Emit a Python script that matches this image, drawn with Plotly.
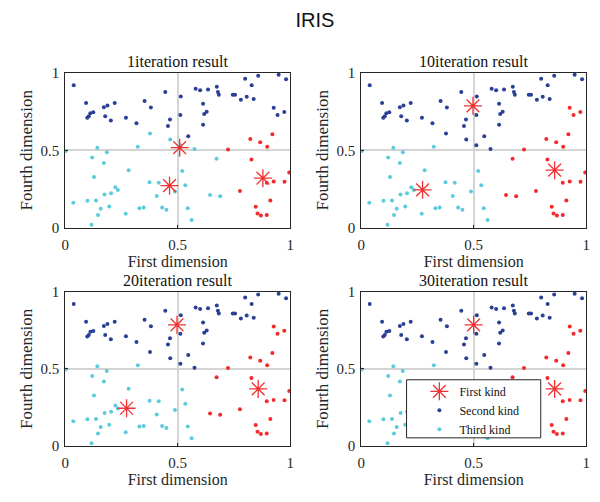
import plotly.graph_objects as go

# ---- data: normalised (first dimension, fourth dimension) of IRIS samples ----
px = [0.038, 0.093, 0.105, 0.112, 0.098, 0.125, 0.172, 0.188, 0.220, 0.178,
      0.203, 0.270, 0.317, 0.353, 0.381, 0.445, 0.466, 0.457, 0.514, 0.512,
      0.547, 0.580, 0.600, 0.635, 0.674, 0.679, 0.683, 0.613, 0.629, 0.618,
      0.613, 0.745, 0.755, 0.781, 0.807, 0.800, 0.829, 0.838, 0.858, 0.949,
      0.982, 0.927, 0.944, 0.974,
      0.921, 0.823, 0.867, 0.898, 0.724, 0.828, 0.996, 0.975, 0.927, 0.896,
      0.777, 0.912, 0.847, 0.855, 0.870, 0.896,
      0.377, 0.467, 0.512, 0.575, 0.673, 0.644, 0.689,
      0.323, 0.143, 0.185, 0.003, 0.120, 0.172, 0.282, 0.520, 0.128, 0.375,
      0.416, 0.534, 0.223, 0.234, 0.204, 0.175, 0.488, 0.407, 0.036, 0.099,
      0.137, 0.196, 0.158, 0.330, 0.349, 0.431, 0.450, 0.545, 0.269, 0.146,
      0.562, 0.117]
py = [0.920, 0.805, 0.720, 0.740, 0.710, 0.745, 0.778, 0.790, 0.805, 0.720,
      0.692, 0.711, 0.674, 0.818, 0.776, 0.877, 0.699, 0.657, 0.847, 0.728,
      0.590, 0.897, 0.887, 0.893, 0.910, 0.877, 0.858, 0.800, 0.749, 0.734,
      0.665, 0.858, 0.858, 0.826, 0.845, 0.962, 0.920, 0.831, 0.981, 0.987,
      0.958, 0.774, 0.728, 0.747,
      0.603, 0.573, 0.552, 0.523, 0.506, 0.441, 0.356, 0.297, 0.299, 0.291,
      0.238, 0.176, 0.136, 0.092, 0.079, 0.082,
      0.609, 0.569, 0.533, 0.508, 0.446, 0.211, 0.203,
      0.523, 0.517, 0.487, 0.496, 0.454, 0.418, 0.372, 0.366, 0.328, 0.293,
      0.291, 0.274, 0.262, 0.243, 0.222, 0.215, 0.234, 0.205, 0.161, 0.174,
      0.176, 0.138, 0.123, 0.126, 0.130, 0.130, 0.117, 0.126, 0.090, 0.082,
      0.050, 0.019]

# cluster labels: 1 = first kind (red), 2 = second kind (blue), 3 = third kind (cyan)
labels_iter1 = [2] * 44 + [1] * 16 + [3] * 7 + [3] * 32
labels_iter10 = [2] * 41 + [1] * 3 + [1] * 16 + [2] * 4 + [1] * 3 + [3] * 32
labels_iter20 = list(labels_iter10)
labels_iter30 = list(labels_iter10)

centers_x = {1: [0.509, 0.464, 0.879], 10: [0.497, 0.273, 0.860],
             20: [0.497, 0.273, 0.858], 30: [0.500, 0.273, 0.860]}
centers_y = {1: [0.517, 0.272, 0.320], 10: [0.787, 0.245, 0.372],
             20: [0.785, 0.245, 0.370], 30: [0.785, 0.245, 0.370]}

iterations = [1, 10, 20, 30]
all_labels = [labels_iter1, labels_iter10, labels_iter20, labels_iter30]
kind_names = {1: "First kind", 2: "Second kind", 3: "Third kind"}
kind_colors = {1: "#f42a2a", 2: "#2a3f96", 3: "#5ccbdc"}

serif = "Liberation Serif"
ink = "#262626"

fig = go.Figure()

xdoms = [[62 / 600, 290 / 600], [362 / 600, 590 / 600]]
ydoms = [[1 - 227 / 502, 1 - 67 / 502], [1 - 452.5 / 502, 1 - 293 / 502]]

for i, it in enumerate(iterations):
    r, c = divmod(i, 2)
    n = i + 1
    xa = "x" if n == 1 else f"x{n}"
    ya = "y" if n == 1 else f"y{n}"
    labs = all_labels[i]
    for k in (2, 3, 1):
        xs = [x for x, l in zip(px, labs) if l == k]
        ys = [y for y, l in zip(py, labs) if l == k]
        fig.add_trace(go.Scatter(
            x=xs, y=ys, mode="markers", xaxis=xa, yaxis=ya,
            name=kind_names[k], showlegend=(n == 4 and k != 1), legendrank=k,
            marker=dict(color=kind_colors[k], size=4, line=dict(width=0)),
        ))
    fig.add_trace(go.Scatter(
        x=centers_x[it], y=centers_y[it], mode="markers", xaxis=xa, yaxis=ya,
        name="First kind", showlegend=(n == 4), legendrank=1,
        marker=dict(symbol="asterisk-open", size=15, color="#f03232",
                    line=dict(color="#f03232", width=1.3)),
    ))
    axcommon = dict(range=[0, 1], tickvals=[0, 0.5, 1], ticktext=["0", "0.5", "1"],
                    showgrid=True, gridcolor="#d4d4d4", gridwidth=2, zeroline=False,
                    showline=True, mirror=True, linecolor=ink, linewidth=1,
                    ticks="inside", ticklen=3, tickcolor=ink,
                    tickfont=dict(family=serif, size=15, color=ink))
    fig.layout[f"xaxis{'' if n == 1 else n}"] = dict(
        domain=xdoms[c], anchor=ya, ticklabelstandoff=3, **axcommon,
        title=dict(text="First dimension", font=dict(family=serif, size=16, color=ink),
                   standoff=3))
    fig.layout[f"yaxis{'' if n == 1 else n}"] = dict(
        domain=ydoms[r], anchor=xa, ticklabelstandoff=2, **axcommon,
        title=dict(text="Fourth dimension", font=dict(family=serif, size=17, color=ink),
                   standoff=3))
    fig.add_annotation(
        text=f"{it}iteration result", xref="paper", yref="paper",
        x=(xdoms[c][0] + xdoms[c][1]) / 2, y=ydoms[r][1], xanchor="center",
        yanchor="bottom", yshift=1, showarrow=False,
        font=dict(family=serif, size=16, color="#111111"))

# legend frame (box wider than the plotly legend itself, as in the reference)
fig.add_shape(type="rect", xref="paper", yref="paper",
              x0=408 / 600, x1=544 / 600, y0=1 - 444 / 502, y1=1 - 384 / 502,
              line=dict(color=ink, width=1), fillcolor="white", layer="above")

fig.update_layout(
    width=600, height=502, margin=dict(l=0, r=0, t=0, b=0),
    paper_bgcolor="white", plot_bgcolor="white",
    title=dict(text="IRIS", x=0.525, xanchor="center", y=1 - 20 / 502, yanchor="middle",
               font=dict(family="Liberation Sans", size=20, color="#111111")),
    legend=dict(x=421 / 600, y=1 - 381 / 502, xanchor="left", yanchor="top",
                bgcolor="rgba(0,0,0,0)", borderwidth=0,
                font=dict(family=serif, size=12, color="#111111"),
                tracegroupgap=0, itemsizing="trace"),
)

fig.write_html("out.html")
